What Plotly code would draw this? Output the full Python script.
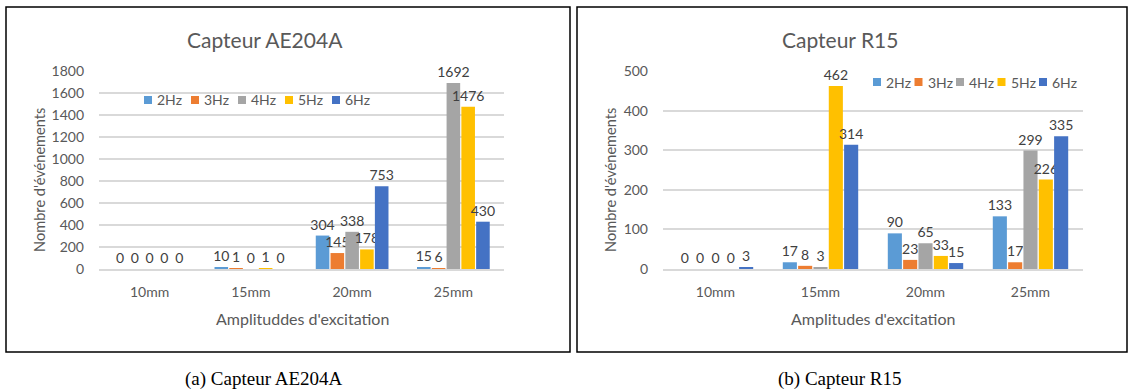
import plotly.graph_objects as go

categories = ["10mm", "15mm", "20mm", "25mm"]
series_names = ["2Hz", "3Hz", "4Hz", "5Hz", "6Hz"]
colors = ["#5B9BD5", "#ED7D31", "#A5A5A5", "#FFC000", "#4472C4"]

ae204a_2hz = [0, 10, 304, 15]
ae204a_3hz = [0, 1, 145, 6]
ae204a_4hz = [0, 0, 338, 1692]
ae204a_5hz = [0, 1, 178, 1476]
ae204a_6hz = [0, 0, 753, 430]

r15_2hz = [0, 17, 90, 133]
r15_3hz = [0, 8, 23, 17]
r15_4hz = [0, 3, 65, 299]
r15_5hz = [0, 462, 33, 226]
r15_6hz = [3, 314, 15, 335]

left_yticks = [0, 200, 400, 600, 800, 1000, 1200, 1400, 1600, 1800]
right_yticks = [0, 100, 200, 300, 400, 500]

W, H = 1131, 390
def px(x):
    return x / W
def py(y):
    return 1 - y / H

FONT = "Lato"
GREY = "#595959"
LBL = "#404040"

fig = go.Figure()

left_series = [ae204a_2hz, ae204a_3hz, ae204a_4hz, ae204a_5hz, ae204a_6hz]
right_series = [r15_2hz, r15_3hz, r15_4hz, r15_5hz, r15_6hz]

for name, col, vals in zip(series_names, colors, left_series):
    fig.add_trace(go.Bar(
        x=categories, y=vals, name=name, marker=dict(color=col, line=dict(width=0)),
        texttemplate="%{y}", textposition="outside", constraintext="none",
        cliponaxis=False, textfont=dict(family=FONT, size=14, color=LBL),
        xaxis="x", yaxis="y", showlegend=False))

for name, col, vals in zip(series_names, colors, right_series):
    fig.add_trace(go.Bar(
        x=categories, y=vals, name=name, marker=dict(color=col, line=dict(width=0)),
        texttemplate="%{y}", textposition="outside", constraintext="none",
        cliponaxis=False, textfont=dict(family=FONT, size=14, color=LBL),
        xaxis="x2", yaxis="y2", showlegend=False))

ydom = [py(269), py(71)]
axis_common_x = dict(showgrid=False, showline=True, linecolor="#d9d9d9", linewidth=2,
                     ticks="", tickfont=dict(family=FONT, size=14, color=GREY),
                     ticklabelstandoff=9, fixedrange=True)
axis_common_y = dict(showgrid=True, gridcolor="#d9d9d9", gridwidth=2, zeroline=False,
                     showline=False, ticks="", tickfont=dict(family=FONT, size=14, color=GREY),
                     ticklabelstandoff=14, fixedrange=True)

fig.update_layout(
    width=W, height=H,
    margin=dict(l=0, r=0, t=0, b=0, autoexpand=False),
    paper_bgcolor="white", plot_bgcolor="white",
    barmode="group", bargap=0.27, bargroupgap=0.08,
    font=dict(family=FONT, color=GREY),
    showlegend=False,
    xaxis=dict(domain=[px(99), px(504)], anchor="y", **axis_common_x),
    yaxis=dict(domain=ydom, anchor="x", range=[0, 1800], tickvals=left_yticks, **axis_common_y),
    xaxis2=dict(domain=[px(663), px(1083)], anchor="y2", **axis_common_x),
    yaxis2=dict(domain=ydom, anchor="x2", range=[0, 500], tickvals=right_yticks, **axis_common_y),
)

shapes = [
    dict(type="rect", xref="paper", yref="paper", x0=px(6), x1=px(570), y0=py(352), y1=py(7),
         line=dict(color="black", width=1.5)),
    dict(type="rect", xref="paper", yref="paper", x0=px(577), x1=px(1127), y0=py(352), y1=py(7),
         line=dict(color="black", width=1.5)),
]

annots = [
    dict(text="Capteur AE204A", x=px(265), y=py(40), font=dict(family=FONT, size=21, color=GREY)),
    dict(text="Capteur R15", x=px(840), y=py(40), font=dict(family=FONT, size=21, color=GREY)),
    dict(text="Nombre d'événements", x=px(39), y=py(180), textangle=-90,
         font=dict(family=FONT, size=14.6, color=GREY)),
    dict(text="Nombre d'événements", x=px(610), y=py(180), textangle=-90,
         font=dict(family=FONT, size=14.6, color=GREY)),
    dict(text="Amplituddes d'excitation", x=px(302), y=py(318),
         font=dict(family=FONT, size=16, color=GREY)),
    dict(text="Amplitudes d'excitation", x=px(873), y=py(318),
         font=dict(family=FONT, size=16, color=GREY)),
    dict(text="(a) Capteur AE204A", x=px(264), y=py(379),
         font=dict(family="Liberation Serif", size=19, color="#000000")),
    dict(text="(b) Capteur R15", x=px(839), y=py(379),
         font=dict(family="Liberation Serif", size=19, color="#000000")),
]
for a in annots:
    a.update(xanchor="center", yanchor="middle")

# custom legends (symbol square + label), one per panel
legend_specs = [(144, 100, 47), (873, 82, 41.5)]
for (lx, ly, step) in legend_specs:
    for i, (name, col) in enumerate(zip(series_names, colors)):
        x0 = lx + i * step
        shapes.append(dict(type="rect", xref="paper", yref="paper",
                           x0=px(x0), x1=px(x0 + 8), y0=py(ly + 4), y1=py(ly - 4),
                           fillcolor=col, line=dict(width=0)))
        annots.append(dict(text=name, x=px(x0 + 11), y=py(ly), xanchor="left", yanchor="middle",
                           font=dict(family=FONT, size=14, color=GREY)))

for a in annots:
    a.update(xref="paper", yref="paper", showarrow=False)
fig.update_layout(shapes=shapes, annotations=annots)

fig.write_html(
    "out.html",
    config={"displayModeBar": False},
    post_script="document.body.style.margin='0';document.body.style.padding='0';"
                "document.body.style.overflow='hidden';",
)
